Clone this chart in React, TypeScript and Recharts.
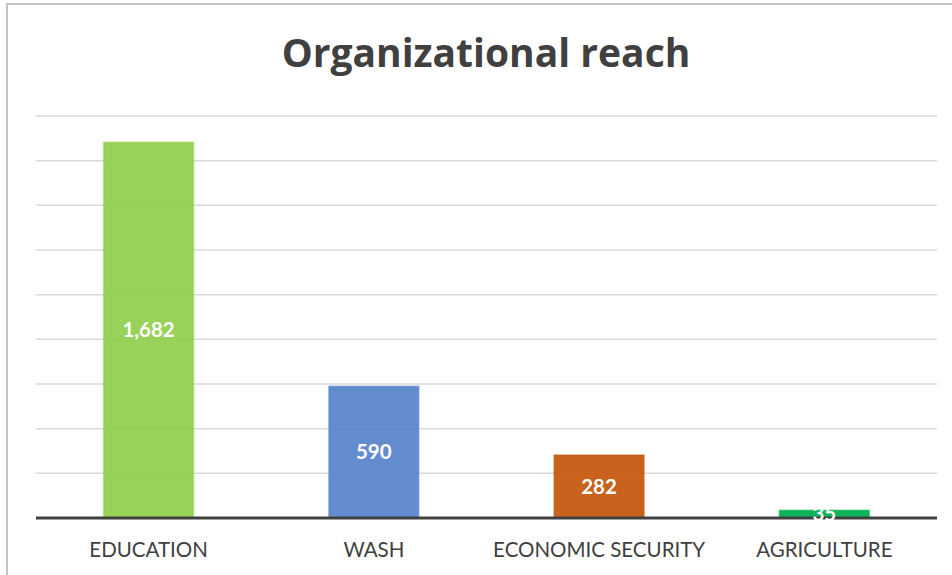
import { BarChart, Bar, XAxis, YAxis, CartesianGrid, Cell, LabelList } from 'recharts';

const categories = ['EDUCATION', 'WASH', 'ECONOMIC SECURITY', 'AGRICULTURE'];
const reach = [1682, 590, 282, 35];
const barColors = ['#92D050', '#5B86CC', '#C55A11', '#00B050'];
const yTicks = [0, 200, 400, 600, 800, 1000, 1200, 1400, 1600, 1800];

const data = categories.map((name, i) => ({ name, value: reach[i] }));

const FONT = 'Lato, "Open Sans", sans-serif';

export default function App() {
  return (
    <div style={{ position: 'fixed', left: 0, top: 0, width: 952, height: 575, overflow: 'hidden', background: '#fff' }}>
      {/* chart frame, cut off at right and bottom */}
      <div style={{ position: 'absolute', left: 6, top: 3, width: 980, height: 620, border: '2px solid #c4c4c4' }} />
      <div
        style={{
          position: 'absolute',
          left: 0,
          top: 26,
          width: 972,
          textAlign: 'center',
          fontFamily: '"Open Sans", sans-serif',
          fontWeight: 700,
          fontSize: 39,
          color: '#404040',
          lineHeight: '52px',
        }}
      >
        Organizational reach
      </div>
      <BarChart
        width={952}
        height={575}
        data={data}
        margin={{ top: 116, right: 15, bottom: 27, left: 36 }}
        barCategoryGap="30%"
        style={{ position: 'absolute', left: 0, top: 0 }}
      >
        <CartesianGrid vertical={false} stroke="#d9d9d9" strokeWidth={1.5} />
        <YAxis hide domain={[0, 1800]} ticks={yTicks} />
        <XAxis
          dataKey="name"
          axisLine={{ stroke: '#404040', strokeWidth: 3 }}
          tickLine={false}
          tickSize={0}
          tickMargin={24}
          tick={{ fill: '#404040', fontSize: 20.5, fontFamily: FONT }}
        />
        <Bar dataKey="value" isAnimationActive={false} fillOpacity={0.95} strokeWidth={1.5} strokeOpacity={0.5}>
          {data.map((d, i) => (
            <Cell key={d.name} fill={barColors[i]} stroke={barColors[i]} />
          ))}
          <LabelList
            dataKey="value"
            position="center"
            formatter={(v: number) => v.toLocaleString('en-US')}
            style={{ fill: '#ffffff', fontSize: 20.5, fontWeight: 700, fontFamily: FONT }}
          />
        </Bar>
      </BarChart>
    </div>
  );
}
